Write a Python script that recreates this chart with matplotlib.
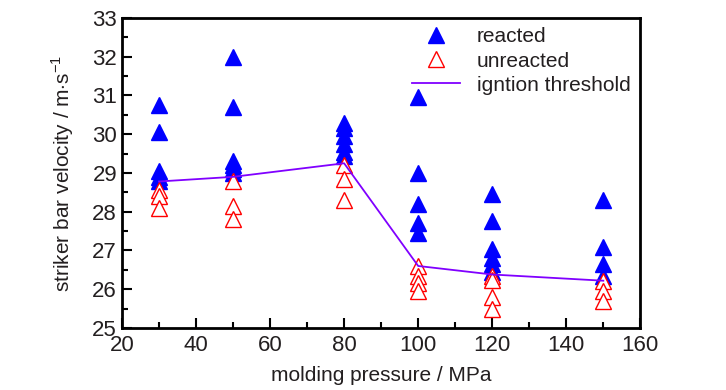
import matplotlib
matplotlib.use("Agg")
import matplotlib.pyplot as plt
from matplotlib.ticker import MultipleLocator

plt.rcParams["font.family"] = ["Liberation Sans", "DejaVu Sans"]
plt.rcParams["mathtext.fontset"] = "custom"
plt.rcParams["mathtext.rm"] = "Liberation Sans"

# reacted shots (filled)
reacted_x = [30] * 5 + [50] * 6 + [80] * 6 + [100] * 5 + [120] * 6 + [150] * 4
reacted_v = [30.75, 30.05, 29.05, 28.9, 28.8,
             32.0, 30.7, 29.3, 29.2, 29.1, 29.0,
             30.3, 30.15, 29.95, 29.75, 29.55, 29.45,
             30.95, 29.0, 28.2, 27.7, 27.45,
             28.45, 27.75, 27.05, 26.8, 26.65, 26.45,
             28.3, 27.1, 26.65, 26.35]

# unreacted shots (open)
unreacted_x = [30] * 3 + [50] * 3 + [80] * 3 + [100] * 4 + [120] * 4 + [150] * 3
unreacted_v = [28.55, 28.4, 28.1,
               28.8, 28.15, 27.8,
               29.2, 28.85, 28.3,
               26.6, 26.35, 26.15, 25.95,
               26.35, 26.25, 25.8, 25.5,
               26.2, 25.95, 25.7]

# ignition threshold
thr_x = [30, 50, 80, 100, 120, 150]
thr_v = [28.78, 28.9, 29.25, 26.6, 26.38, 26.22]

txt = "#231f20"

fig = plt.figure(figsize=(7.26, 3.9), dpi=100)
ax = fig.add_axes([0.168, 0.159, 0.714, 0.795])

ax.plot(reacted_x, reacted_v, linestyle="none", marker="^", ms=11,
        color="#0000ff", label="reacted")
ax.plot(unreacted_x, unreacted_v, linestyle="none", marker="^", ms=11,
        markerfacecolor="white", markeredgecolor="#ff0000", mew=1.0,
        label="unreacted")
ax.plot(thr_x, thr_v, color="#8000ff", lw=1.3, label="igntion threshold")

ax.set_xlim(20, 160)
ax.set_ylim(25, 33)
ax.xaxis.set_major_locator(MultipleLocator(20))
ax.xaxis.set_minor_locator(MultipleLocator(10))
ax.yaxis.set_major_locator(MultipleLocator(1))
ax.yaxis.set_minor_locator(MultipleLocator(0.5))
ax.tick_params(which="both", direction="in", width=1.5, labelsize=16,
               colors="black", labelcolor=txt)
ax.tick_params(which="major", length=7)
ax.tick_params(which="minor", length=4)
ax.tick_params(axis="x", pad=5)
for s in ax.spines.values():
    s.set_linewidth(2)

ax.set_xlabel("molding pressure / MPa", fontsize=15, color=txt, labelpad=7)
ax.set_ylabel("striker bar velocity / m$\\cdot$s$^{-1}$", fontsize=15, color=txt,
              labelpad=12)

leg = ax.legend(loc="upper right", frameon=False, fontsize=15, handlelength=2.3,
                labelspacing=0.25, borderaxespad=0.2, bbox_to_anchor=(1.005, 1.01))
for t in leg.get_texts():
    t.set_color(txt)

fig.savefig("out.png", dpi=100)
